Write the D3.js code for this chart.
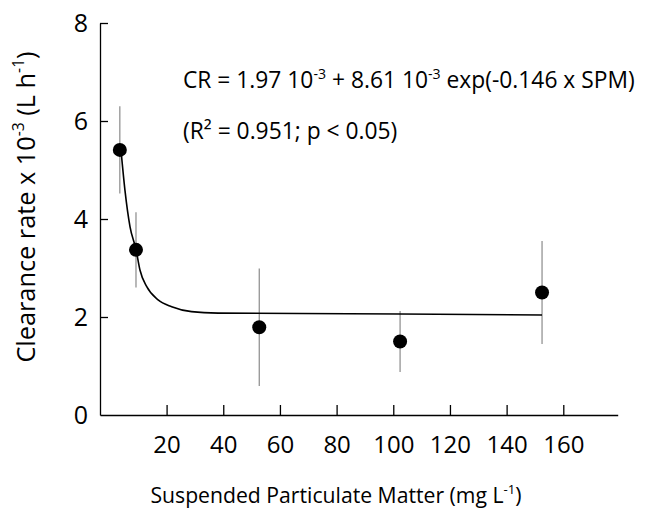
<!DOCTYPE html>
<html>
<head>
<meta charset="utf-8">
<script src="https://cdn.jsdelivr.net/npm/d3@7"></script>
<style>
  body { margin: 0; background: #fff; }
  svg text { font-family: "Open Sans", "Noto Sans", sans-serif; fill: #000; }
</style>
</head>
<body>
<div id="chart"></div>
<script>
/** Measured points (SPM, clearance rate, error) */
const spm = [3.5, 9.2, 52.7, 102.4, 152.5];
const clearance = [5.41, 3.37, 1.79, 1.50, 2.50];
const errors = [0.89, 0.77, 1.2, 0.62, 1.05];

/** Fitted curve */
const curveX = [3.9, 5.3, 7.1, 9.2, 10.6, 13.0, 17.0, 21.8, 28.8, 38.2, 67, 102.4, 152.5];
const curveY = [5.41, 4.59, 3.84, 3.38, 2.96, 2.62, 2.35, 2.21, 2.11, 2.08, 2.07, 2.06, 2.04];

/** Tick values */
const xTicks = [20, 40, 60, 80, 100, 120, 140, 160];
const yTicks = [0, 2, 4, 6, 8];

const width = 647;
const height = 510;

const svg = d3.select("#chart").append("svg")
  .attr("width", width)
  .attr("height", height);

/** Scales */
const x = d3.scaleLinear().domain([-3.5, 179.2]).range([100, 617.7]);
const y = d3.scaleLinear().domain([0, 8]).range([415, 23]);

/** Axes, ticks pointing inwards */
const xAxis = svg.append("g")
  .attr("transform", `translate(0,${y(0)})`)
  .call(d3.axisBottom(x).tickValues(xTicks).tickSizeInner(-10).tickSizeOuter(0).tickPadding(21));

const yAxis = svg.append("g")
  .attr("transform", `translate(${x.range()[0]},0)`)
  .call(d3.axisLeft(y).tickValues(yTicks).tickSizeInner(-8).tickSizeOuter(0).tickPadding(12));

[xAxis, yAxis].forEach((g) => {
  g.selectAll("path, line").attr("stroke", "#000").attr("stroke-width", 1.3);
  g.selectAll("text").attr("font-size", 24);
});
yAxis.selectAll("text").attr("font-size", 25);
yAxis.selectAll(".tick line").filter((d) => d === 0).remove();

/** Error bars */
svg.append("g").selectAll("line")
  .data(spm)
  .join("line")
  .attr("x1", (d) => x(d))
  .attr("x2", (d) => x(d))
  .attr("y1", (d, i) => y(clearance[i] + errors[i]))
  .attr("y2", (d, i) => y(clearance[i] - errors[i]))
  .attr("stroke", "#8a8a8a")
  .attr("stroke-width", 1.2);

/** Fitted curve */
const line = d3.line()
  .x((d) => x(d[0]))
  .y((d) => y(d[1]))
  .curve(d3.curveMonotoneX);

svg.append("path")
  .datum(d3.zip(curveX, curveY))
  .attr("d", line)
  .attr("fill", "none")
  .attr("stroke", "#000")
  .attr("stroke-width", 1.6);

/** Points */
svg.append("g").selectAll("circle")
  .data(spm)
  .join("circle")
  .attr("cx", (d) => x(d))
  .attr("cy", (d, i) => y(clearance[i]))
  .attr("r", 7)
  .attr("fill", "#000");

/** Text helper for pieces with superscripts */
const addParts = (text, parts, size) => {
  parts.forEach(([s, sup]) => {
    text.append("tspan")
      .attr("font-size", sup ? size * 0.62 : size)
      .attr("baseline-shift", sup ? "super" : null)
      .text(s);
  });
};

/** Equation */
const eq = svg.append("text").attr("x", 183).attr("y", 88);
addParts(eq, [
  ["CR = 1.97 10", false], ["-3", true], [" + 8.61 10", false], ["-3", true],
  [" exp(-0.146 x SPM)", false]
], 22.8);

svg.append("text")
  .attr("x", 183).attr("y", 139)
  .attr("font-size", 22.8)
  .text("(R² = 0.951; p < 0.05)");

/** X title */
const xTitle = svg.append("text")
  .attr("x", 336).attr("y", 503)
  .attr("text-anchor", "middle");
addParts(xTitle, [["Suspended Particulate Matter (mg L", false], ["-1", true], [")", false]], 21.2);

/** Y title */
const yTitle = svg.append("text")
  .attr("transform", "translate(35,207) rotate(-90)")
  .attr("text-anchor", "middle");
addParts(yTitle, [["Clearance rate x 10", false], ["-3", true], [" (L h", false], ["-1", true], [")", false]], 25.3);
</script>
</body>
</html>
